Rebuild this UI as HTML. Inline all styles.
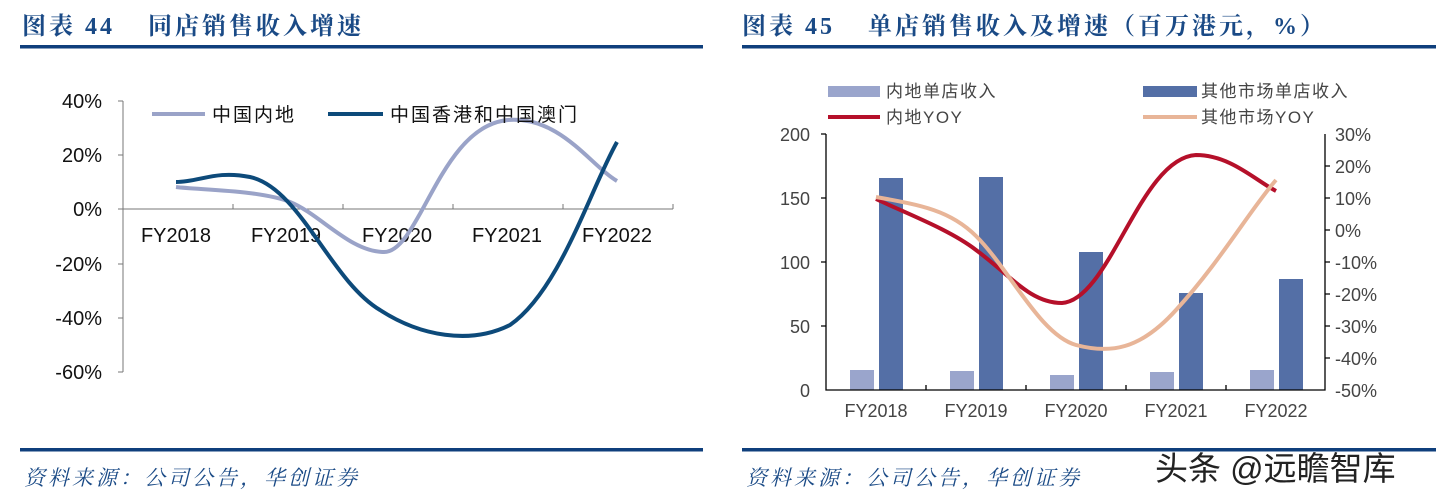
<!DOCTYPE html>
<html><head><meta charset="utf-8"><style>
html,body{margin:0;padding:0;background:#fff;}
svg{display:block;}
</style></head><body>
<svg width="1438" height="502" viewBox="0 0 1438 502" xmlns="http://www.w3.org/2000/svg">
<g font-family="'Liberation Serif','Noto Serif CJK SC',serif" font-weight="bold" fill="#1a4a86" font-size="24" letter-spacing="3">
<text x="22" y="34">图表 44</text><text x="148" y="34">同店销售收入增速</text>
<text x="742" y="34">图表 45</text><text x="868" y="34">单店销售收入及增速（百万港元，%）</text>
</g>
<rect x="20" y="45" width="683" height="3.5" fill="#0f3f7c"/>
<rect x="742" y="45" width="694" height="3.5" fill="#0f3f7c"/>
<rect x="20" y="448" width="683" height="3.5" fill="#0f3f7c"/>
<rect x="742" y="448" width="694" height="3.5" fill="#0f3f7c"/>
<g font-family="'Liberation Serif','Noto Serif CJK SC',serif" font-style="italic" fill="#1a4a86" font-size="21" letter-spacing="3">
<text x="24" y="485">资料来源：公司公告，华创证券</text>
<text x="746" y="485">资料来源：公司公告，华创证券</text>
</g>
<text x="1155" y="480" font-family="'Liberation Sans','Noto Sans CJK SC',sans-serif" font-size="33" fill="#222">头条 @远瞻智库</text>

<!-- Left chart -->
<g font-family="'Liberation Sans',sans-serif" font-size="20" fill="#111">
<g text-anchor="end">
<text x="102" y="108">40%</text><text x="102" y="162">20%</text><text x="102" y="216">0%</text>
<text x="102" y="271">-20%</text><text x="102" y="325">-40%</text><text x="102" y="379">-60%</text>
</g>
<g text-anchor="middle">
<text x="176" y="242">FY2018</text><text x="286" y="242">FY2019</text><text x="397" y="242">FY2020</text>
<text x="507" y="242">FY2021</text><text x="617" y="242">FY2022</text>
</g>
</g>
<g stroke="#777" stroke-width="1" fill="none">
<path d="M123 101V372M118 101H123M118 155H123M118 209H123M118 264H123M118 318H123M118 372H123"/>
<path d="M123 209H673M233 209V204M343 209V204M453 209V204M563 209V204M673 209V204"/>
</g>
<path d="M176 187 C200 190,260 190,290 202 C320 214,350 252,384 252 C420 252,440 126,508 120 C560 116,590 165,617 181" stroke="#9aa3c8" stroke-width="4" fill="none"/>
<path d="M176 182 C200 182,215 170,250 177 C300 188,330 280,380 310 C420 336,470 345,510 325 C560 290,590 190,617 142" stroke="#0d4a7a" stroke-width="4" fill="none"/>
<rect x="152" y="112" width="53" height="4" fill="#9aa3c8"/>
<rect x="328" y="112" width="55" height="4" fill="#0d4a7a"/>
<g font-family="'Liberation Sans','Noto Sans CJK SC',sans-serif" font-size="19" fill="#111" letter-spacing="2">
<text x="212" y="121">中国内地</text><text x="390" y="121">中国香港和中国澳门</text>
</g>

<!-- Right chart -->
<g fill="#9aa5cc">
<rect x="850" y="370" width="24" height="20"/><rect x="950" y="371" width="24" height="19"/>
<rect x="1050" y="375" width="24" height="15"/><rect x="1150" y="372" width="24" height="18"/>
<rect x="1250" y="370" width="24" height="20"/>
</g>
<g fill="#546fa6">
<rect x="879" y="178" width="24" height="212"/><rect x="979" y="177" width="24" height="213"/>
<rect x="1079" y="252" width="24" height="138"/><rect x="1179" y="293" width="24" height="97"/>
<rect x="1279" y="279" width="24" height="111"/>
</g>
<g stroke="#000" stroke-width="1.3" fill="none">
<path d="M826 134V390H1325V134"/>
<path d="M821 134H826M821 198H826M821 262H826M821 326H826"/>
<path d="M926 390V385M1026 390V385M1126 390V385M1226 390V385"/>
<path d="M1325 166H1330M1325 198H1330M1325 230H1330M1325 262H1330M1325 294H1330M1325 326H1330M1325 358H1330"/>
</g>
<path d="M876 199 C910 215,950 230,976 250 C1010 275,1030 303,1062 303 C1110 300,1140 158,1196 155 C1230 155,1255 180,1276 191" stroke="#b5102a" stroke-width="4" fill="none"/>
<path d="M876 197 C920 205,950 210,976 236 C1010 270,1040 335,1076 345 C1110 354,1140 350,1176 310 C1220 262,1250 210,1276 180" stroke="#e8b598" stroke-width="4" fill="none"/>
<g font-family="'Liberation Sans',sans-serif" font-size="18" fill="#444">
<g text-anchor="end">
<text x="810" y="141">200</text><text x="810" y="205">150</text><text x="810" y="269">100</text>
<text x="810" y="333">50</text><text x="810" y="397">0</text>
</g>
<text x="1335" y="141">30%</text><text x="1335" y="173">20%</text><text x="1335" y="205">10%</text>
<text x="1335" y="237">0%</text><text x="1335" y="269">-10%</text><text x="1335" y="301">-20%</text>
<text x="1335" y="333">-30%</text><text x="1335" y="365">-40%</text><text x="1335" y="397">-50%</text>
<g text-anchor="middle">
<text x="876" y="417">FY2018</text><text x="976" y="417">FY2019</text><text x="1076" y="417">FY2020</text>
<text x="1176" y="417">FY2021</text><text x="1276" y="417">FY2022</text>
</g>
</g>
<rect x="828" y="86" width="52" height="11" fill="#9aa5cc"/>
<rect x="1143" y="86" width="54" height="11" fill="#546fa6"/>
<rect x="828" y="115" width="52" height="4" fill="#b5102a"/>
<rect x="1143" y="115" width="54" height="4" fill="#e8b598"/>
<g font-family="'Liberation Sans','Noto Sans CJK SC',sans-serif" font-size="17" fill="#444" letter-spacing="1.5">
<text x="886" y="97">内地单店收入</text><text x="1201" y="97">其他市场单店收入</text>
<text x="886" y="123">内地YOY</text><text x="1201" y="123">其他市场YOY</text>
</g>
</svg>
</body></html>
